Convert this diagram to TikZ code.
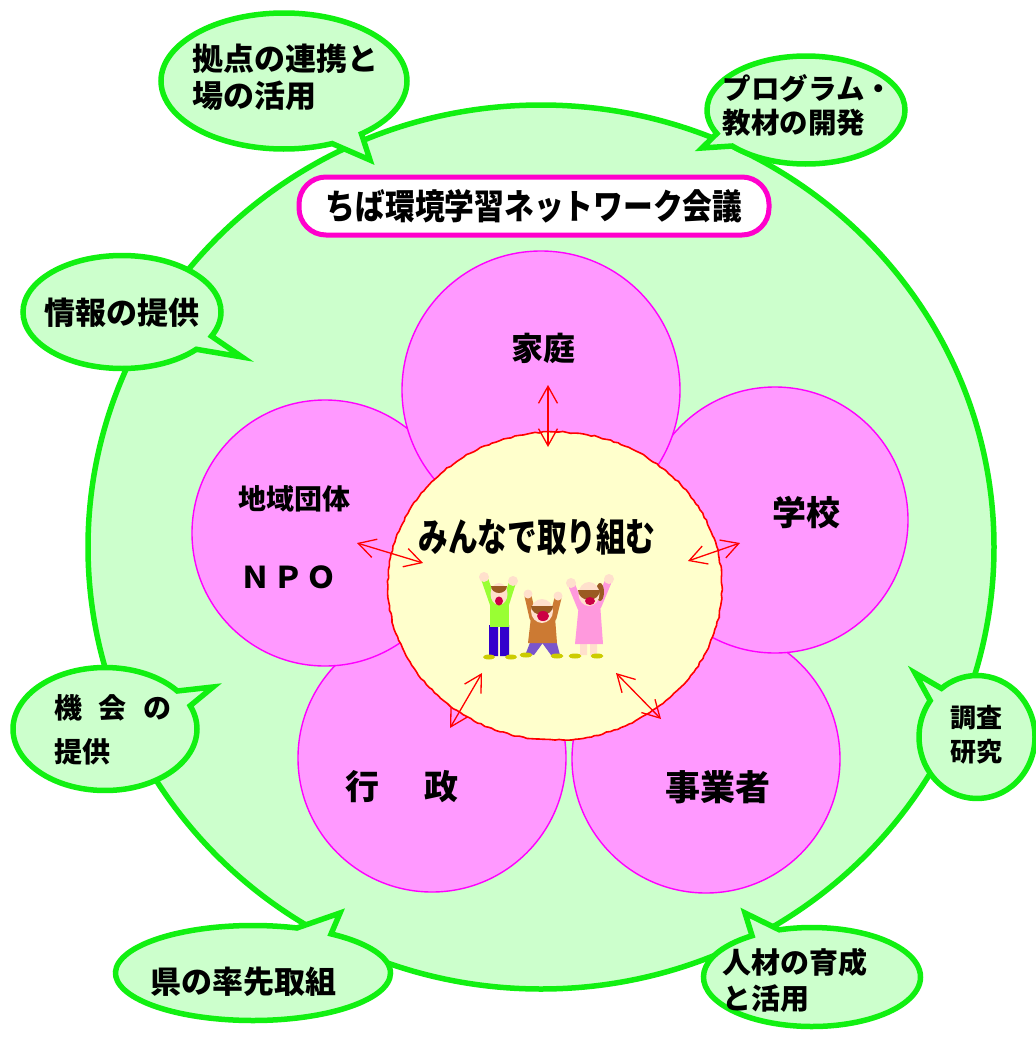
\documentclass[tikz,border=0pt]{standalone}
\usepackage{fontspec}
\setmainfont{Noto Sans CJK JP}
\usetikzlibrary{shapes.geometric,shapes.callouts,arrows.meta,decorations.pathmorphing}

\definecolor{bubblefill}{HTML}{CCFFCC}
\definecolor{bubbleline}{HTML}{11F011}
\definecolor{petalfill}{HTML}{FF99FF}
\definecolor{petalline}{HTML}{FF00FF}
\definecolor{titleline}{HTML}{FF00CC}
\definecolor{corefill}{HTML}{FFFFCC}
\definecolor{skin}{HTML}{FFE0CC}
\definecolor{hair}{HTML}{9A5A22}
\definecolor{mouth}{HTML}{CC0044}
\definecolor{shirtgreen}{HTML}{99FF33}
\definecolor{pantsblue}{HTML}{3300CC}
\definecolor{shirtbrown}{HTML}{CC7A33}
\definecolor{pantspurple}{HTML}{7A55CC}
\definecolor{dresspink}{HTML}{FF99DD}
\definecolor{shoe}{HTML}{CCCC00}

\newcommand{\fs}[1]{\fontsize{#1}{#1}\selectfont}

\tikzset{
  world/.style={ellipse, draw=bubbleline, line width=5.5pt, fill=bubblefill, inner sep=0pt},
  bubble/.style={ellipse callout, draw=bubbleline, line width=5.5pt, fill=bubblefill,
    inner sep=0pt, callout pointer arc=16},
  btext/.style={inner sep=0pt, align=left, font=\bfseries\fs{29}},
  petal/.style={circle, draw=petalline, line width=1.4pt, fill=petalfill, inner sep=0pt},
  petallabel/.style={font=\bfseries\fs{32}, inner sep=0pt},
  core/.style={ellipse, draw=red, line width=1.6pt, fill=corefill, inner sep=0pt,
    decorate, decoration={random steps, segment length=4pt, amplitude=0.7pt}},
  link/.style={draw=red, line width=1.3pt,
    {Straight Barb[length=17pt,width=19pt]}-{Straight Barb[length=17pt,width=19pt]}},
}

\begin{document}
\begin{tikzpicture}[x=1pt,y=-1pt]
  \useasboundingbox (0,0) rectangle (1036,1039);
  \fill[white] (0,0) rectangle (1036,1039);

  % outer network circle
  \node[world, minimum width=906pt, minimum height=884pt] (net) at (541,547) {};

  % speech bubbles around the network
  \node[bubble, minimum width=246pt, minimum height=136pt,
        callout absolute pointer={(370,160)}] (hub) at (284,81) {};
  \node[btext, font=\bfseries\fs{31}, xshift=1pt, yshift=4pt] (hubT) at (hub)
        {拠点の連携と\\[6pt]場の活用};

  \node[bubble, minimum width=198pt, minimum height=108pt,
        callout absolute pointer={(702,148)}] (prog) at (806,110) {};
  \node[btext, font=\bfseries\fs{28.5}, xshift=2pt, yshift=5pt] (progT) at (prog)
        {プログラム・\\[5.5pt]教材の開発};

  \node[bubble, minimum width=198pt, minimum height=113pt,
        callout absolute pointer={(242,357)}] (info) at (122,312) {};
  \node[btext, font=\bfseries\fs{31}, yshift=-1pt] (infoT) at (info) {情報の提供};

  \node[bubble, minimum width=184pt, minimum height=123pt,
        callout absolute pointer={(213,687)}] (chance) at (105,729) {};
  \node[btext, font=\bfseries\fs{28}, xshift=8pt, yshift=-1pt] (chanceT) at (chance)
        {機\hspace{17pt}会\hspace{17pt}の\\[16pt]提供};

  \node[bubble, minimum width=116pt, minimum height=123pt,
        callout absolute pointer={(915,673)}] (research) at (977,737) {};
  \node[btext, font=\bfseries\fs{26}, xshift=-1pt, yshift=2pt] (researchT) at (research)
        {調査\\[8pt]研究};

  \node[bubble, minimum width=275pt, minimum height=95pt,
        callout absolute pointer={(340,913)}] (pref) at (253,973) {};
  \node[btext, font=\bfseries\fs{31}, xshift=-10pt, yshift=-9pt] (prefT) at (pref)
        {県の率先取組};

  \node[bubble, minimum width=217pt, minimum height=99pt,
        callout absolute pointer={(745,913)}] (people) at (812,977) {};
  \node[btext, font=\bfseries\fs{29}, xshift=-17pt, yshift=-3pt] (peopleT) at (people)
        {人材の育成\\[7pt]と活用};

  % title
  \node[rectangle, rounded corners=27pt, draw=titleline, line width=5pt, fill=white,
        minimum width=470pt, minimum height=58pt, inner sep=0pt] (title) at (534,206)
        {\bfseries\fs{35}\scalebox{0.85}[1]{ちば環境学習ネットワーク会議}};

  % petals
  \node[petal, minimum size=268pt] (gyosei) at (432,758) {};
  \node[petal, minimum size=268pt] (jigyo) at (706,759) {};
  \node[petal, minimum size=266pt] (chiiki) at (325,533) {};
  \node[petal, minimum size=266pt] (gakko) at (775,520) {};
  \node[petal, minimum size=278pt] (katei) at (541,390) {};

  \node[petallabel] (kateiT) at (543,348) {家庭};
  \node[petallabel, font=\bfseries\fs{34}] (gakkoT) at (806,513) {学校};
  \node[petallabel, font=\bfseries\fs{28}] (chiikiT) at (294,499) {地域団体};
  \node[petallabel, font=\bfseries\fs{30}] (npoT) at (288,577) {Ｎ\hspace{3pt}Ｐ\hspace{3pt}Ｏ};
  \node[petallabel, font=\bfseries\fs{34}] (gyoseiT) at (402,787) {行\hspace{45pt}政};
  \node[petallabel, font=\bfseries\fs{35}] (jigyoT) at (718,787) {事業者};

  % centre
  \node[core, minimum width=334pt, minimum height=308pt] (core) at (555,586) {};
  \node[inner sep=0pt] (coreT) at (537,537)
        {\bfseries\fs{39}\scalebox{0.76}[1]{みんなで取り組む}};

  % three cheering children
  % child in green
  \draw[shirtgreen, line width=7pt, line cap=round] (494,606) -- (485,580) (505,606) -- (512,584);
  \fill[skin] (484,577) circle (5) (513,581) circle (5);
  \fill[pantsblue] (489,625) rectangle (498,656) (500,625) rectangle (509,656);
  \fill[shirtgreen] (490,602) rectangle (509,627);
  \fill[skin] (499,594) ellipse (8.5 and 11);
  \fill[hair] (491,586) arc (180:360:8 and -7) -- cycle;
  \fill[mouth] (499,601) ellipse (4 and 4.5);
  \fill[shoe] (489,657) ellipse (6 and 2.5) (511,657) ellipse (6 and 2.5);
  % child in brown
  \draw[shirtbrown, line width=7pt, line cap=round] (533,618) -- (528,596) (553,618) -- (558,598);
  \fill[skin] (528,594) circle (4.5) (558,596) circle (4.5);
  \fill[pantspurple] (531,640) -- (545,640) -- (534,655) -- (526,653) -- cycle;
  \fill[pantspurple] (540,640) -- (556,640) -- (560,655) -- (551,655) -- cycle;
  \fill[shirtbrown] (531,617) -- (555,617) -- (557,643) -- (528,643) -- cycle;
  \fill[skin] (542,611) ellipse (11 and 12);
  \fill[hair] (531,606) arc (180:360:11 and -9) -- cycle;
  \fill[mouth] (543,616) ellipse (6 and 5);
  \fill[shoe] (526,655) ellipse (6.5 and 2.5) (557,656) ellipse (6.5 and 2.5);
  % child in pink
  \draw[dresspink, line width=7pt, line cap=round] (581,608) -- (572,586) (598,606) -- (608,582);
  \fill[skin] (571,583) circle (5) (609,579) circle (5);
  \fill[skin] (580,642) rectangle (587,655) (590,642) rectangle (597,655);
  \fill[dresspink] (579,603) -- (600,603) -- (603,644) -- (575,644) -- cycle;
  \fill[hair] (600,592) ellipse (4 and 9);
  \fill[skin] (589,594) ellipse (10.5 and 12);
  \fill[hair] (578,590) arc (180:360:11 and -10) -- cycle;
  \fill[mouth] (590,601) ellipse (5 and 4);
  \fill[shoe] (575,656) ellipse (6.5 and 2.5) (597,656) ellipse (6.5 and 2.5);

  % links between the centre and each petal
  \coordinate (kA) at (548,385);  \coordinate (kB) at (548,447);
  \coordinate (cA) at (357,543);  \coordinate (cB) at (423,563);
  \coordinate (gA) at (740,543);  \coordinate (gB) at (688,561);
  \coordinate (yA) at (450,728);  \coordinate (yB) at (482,673);
  \coordinate (jA) at (661,719);  \coordinate (jB) at (616,673);
  \draw[link] (kA) -- (kB);
  \draw[link] (cA) -- (cB);
  \draw[link] (gA) -- (gB);
  \draw[link] (yA) -- (yB);
  \draw[link] (jA) -- (jB);
\end{tikzpicture}
\end{document}
